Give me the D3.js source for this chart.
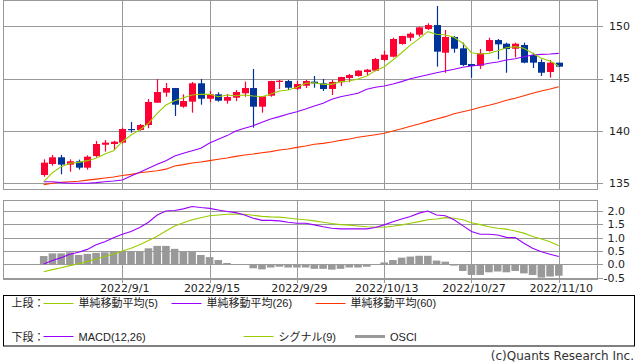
<!DOCTYPE html>
<html><head><meta charset="utf-8">
<script src="https://cdn.jsdelivr.net/npm/d3@7/dist/d3.min.js"></script>
<style>
html,body{margin:0;padding:0;background:#fff;}
svg{display:block;}
</style></head>
<body>
<svg id="chart" width="638" height="362"></svg>
<script>
// ---------- DATA ----------
const dates = ["2022/8/19","2022/8/22","2022/8/23","2022/8/24","2022/8/25","2022/8/26","2022/8/29","2022/8/30","2022/8/31","2022/9/1",
"2022/9/2","2022/9/5","2022/9/6","2022/9/7","2022/9/8","2022/9/9","2022/9/12","2022/9/13","2022/9/14","2022/9/15",
"2022/9/16","2022/9/19","2022/9/20","2022/9/21","2022/9/22","2022/9/23","2022/9/26","2022/9/27","2022/9/28","2022/9/29",
"2022/9/30","2022/10/3","2022/10/4","2022/10/5","2022/10/6","2022/10/7","2022/10/10","2022/10/11","2022/10/12","2022/10/13",
"2022/10/14","2022/10/17","2022/10/18","2022/10/19","2022/10/20","2022/10/21","2022/10/24","2022/10/25","2022/10/26","2022/10/27",
"2022/10/28","2022/10/31","2022/11/1","2022/11/2","2022/11/3","2022/11/4","2022/11/7","2022/11/8","2022/11/9","2022/11/10"];
const tickDates = ["2022/9/1","2022/9/15","2022/9/29","2022/10/13","2022/10/27","2022/11/10"];
const priceTicks = [135,140,145,150];
const macdTicks = [-0.5,0,0.5,1,1.5,2];

const open  = [135.79,136.84,137.48,136.78,137.10,136.49,137.60,138.68,138.75,138.88,140.18,140.09,140.56,142.69,143.65,144.09,142.31,142.79,144.54,143.07,
143.49,142.88,143.17,143.59,144.09,142.31,143.36,144.67,144.76,144.02,144.31,144.70,144.54,144.00,144.64,145.05,145.24,145.62,145.75,146.77,
147.08,148.29,148.89,149.18,149.72,150.10,147.46,148.96,147.88,146.38,146.22,147.62,148.67,148.32,147.84,148.20,147.24,146.57,145.62,146.51];
const high  = [137.29,137.70,137.70,137.29,137.26,137.67,139.04,139.13,139.07,140.31,140.85,140.66,143.04,144.95,144.57,144.10,143.49,144.67,144.95,143.81,
143.68,143.52,143.90,144.70,145.91,143.32,144.78,144.86,144.86,144.76,144.86,145.24,144.95,144.86,145.16,145.43,145.81,145.91,146.96,147.65,
148.89,149.08,149.41,149.94,150.27,151.92,149.63,149.06,148.42,146.40,147.81,148.89,148.77,148.42,148.42,148.42,147.46,146.83,146.77,146.51];
const low   = [135.63,136.68,135.86,136.11,136.30,136.30,137.48,138.02,138.18,138.81,139.83,140.02,140.25,142.69,143.26,141.42,142.21,141.74,142.50,142.73,
142.79,142.60,142.85,143.26,140.31,141.74,143.26,144.00,143.90,143.90,144.09,144.12,143.81,143.42,144.28,144.64,145.18,145.33,145.69,146.64,
147.02,148.23,148.58,148.99,149.63,146.13,145.55,147.46,146.19,145.08,145.91,147.56,146.83,145.55,147.02,146.45,146.00,145.24,145.08,146.13];
const close = [136.97,137.48,136.78,137.10,136.49,137.54,138.75,138.88,138.97,140.18,140.12,140.56,142.76,143.71,144.09,142.50,142.85,144.54,143.07,143.49,
142.88,143.23,143.71,144.09,142.31,143.30,144.76,144.79,144.12,144.47,144.76,144.54,144.00,144.67,145.14,145.33,145.75,145.84,146.86,147.27,
148.77,149.06,149.28,149.88,150.10,147.56,148.96,147.84,146.29,146.19,147.40,148.67,148.26,147.81,148.32,146.51,146.51,145.55,146.51,146.13];

const ma5  = [135.15,136.01,136.59,136.91,137.00,137.16,137.39,137.80,138.11,138.97,139.61,140.09,140.72,141.68,142.47,142.88,143.17,143.43,143.49,143.49,
143.26,143.43,143.36,143.43,143.33,143.26,143.52,143.81,143.90,144.16,144.54,144.60,144.44,144.44,144.70,144.76,144.95,145.24,145.75,146.13,
146.77,147.46,148.18,148.80,149.47,149.22,149.15,148.93,148.36,147.46,147.34,147.40,147.65,147.94,148.04,147.88,147.40,146.93,146.67,146.19];
const ma26 = [135.15,135.15,135.06,135.00,135.00,135.00,135.06,135.15,135.22,135.31,135.70,136.05,136.43,136.81,137.16,137.60,137.86,138.11,138.34,138.85,
139.20,139.55,139.99,140.25,140.50,140.82,141.14,141.36,141.61,141.83,142.09,142.38,142.63,143.02,143.26,143.43,143.59,143.97,144.16,144.28,
144.47,144.70,144.97,145.17,145.36,145.55,145.72,145.88,146.07,146.19,146.29,146.45,146.57,146.77,146.89,147.08,147.24,147.30,147.34,147.40];
const ma60 = [134.87,135.00,135.10,135.15,135.20,135.30,135.40,135.50,135.60,135.75,135.85,136.00,136.10,136.20,136.35,136.65,136.78,136.94,137.03,137.16,
137.29,137.41,137.57,137.70,137.80,137.92,138.02,138.18,138.27,138.43,138.56,138.72,138.81,138.94,139.10,139.23,139.39,139.51,139.64,139.77,
139.99,140.21,140.45,140.66,140.91,141.14,141.36,141.64,141.83,142.02,142.25,142.44,142.66,142.92,143.11,143.36,143.59,143.81,144.00,144.22];

const macd = [0.01,0.14,0.25,0.38,0.45,0.56,0.73,0.85,1.00,1.13,1.23,1.38,1.58,1.85,2.00,2.02,2.08,2.17,2.13,2.10,
2.04,1.98,1.94,1.85,1.73,1.65,1.65,1.63,1.58,1.54,1.54,1.48,1.41,1.35,1.33,1.33,1.33,1.33,1.38,1.48,
1.60,1.70,1.79,1.92,2.00,1.85,1.82,1.67,1.45,1.23,1.13,1.13,1.10,1.01,1.00,0.79,0.60,0.47,0.38,0.29];
const signal = [-0.28,-0.20,-0.13,-0.05,0.02,0.10,0.20,0.29,0.39,0.50,0.60,0.73,0.89,1.05,1.25,1.44,1.56,1.67,1.75,1.82,
1.85,1.88,1.89,1.88,1.84,1.80,1.78,1.77,1.74,1.70,1.67,1.63,1.58,1.53,1.49,1.47,1.44,1.41,1.40,1.39,
1.43,1.48,1.54,1.60,1.67,1.70,1.75,1.73,1.67,1.56,1.49,1.41,1.35,1.32,1.25,1.17,1.04,0.95,0.85,0.70];
const osci = [0.31,0.41,0.41,0.45,0.35,0.39,0.43,0.45,0.47,0.47,0.47,0.47,0.60,0.69,0.69,0.58,0.50,0.50,0.35,0.27,
0.16,0.05,0.01,0.00,-0.15,-0.19,-0.12,-0.09,-0.12,-0.12,-0.12,-0.17,-0.17,-0.20,-0.17,-0.12,-0.12,-0.09,-0.02,0.07,
0.16,0.25,0.29,0.32,0.32,0.14,0.10,-0.05,-0.25,-0.40,-0.40,-0.30,-0.27,-0.30,-0.25,-0.34,-0.40,-0.50,-0.46,-0.43];

const upperLegend = [
  {label:"単純移動平均(5)", color:"#99cc00"},
  {label:"単純移動平均(26)", color:"#9900ff"},
  {label:"単純移動平均(60)", color:"#ff3300"}
];
const lowerLegend = [
  {label:"MACD(12,26)", color:"#9900ff"},
  {label:"シグナル(9)", color:"#99cc00"},
  {label:"OSCI", color:"#999999"}
];

// ---------- LAYOUT ----------
const svg = d3.select("#chart");
const gridC = "#999999";
const L = 3.5, R = 597.5;
const mainTop = 0.5, mainBot = 189.5;
const subTop = 200.5, subBot = 279.5;

const x = d3.scalePoint().domain(dates).range([43.7, 558.8]);
const y = d3.scaleLinear().domain([135,150]).range([183.3, 26.1]);
const ym = d3.scaleLinear().domain([0,2]).range([264.3, 211.0]);
const crisp = v => Math.round(v) + 0.5;

// main panel grid
const gMain = svg.append("g");
gMain.selectAll("line.h").data(priceTicks).join("line")
  .attr("x1", L).attr("x2", 603).attr("y1", d=>crisp(y(d))).attr("y2", d=>crisp(y(d)))
  .attr("stroke", gridC);
gMain.selectAll("line.v").data(tickDates).join("line")
  .attr("x1", d=>crisp(x(d))).attr("x2", d=>crisp(x(d))).attr("y1", mainTop).attr("y2", mainBot)
  .attr("stroke", gridC);
gMain.append("rect").attr("x", L).attr("y", mainTop).attr("width", R-L).attr("height", mainBot-mainTop)
  .attr("fill","none").attr("stroke", gridC);
gMain.selectAll("text").data(priceTicks).join("text")
  .attr("x", 609).attr("y", d=>y(d)).attr("dy","0.36em")
  .attr("font-family","DejaVu Sans").attr("font-size", 11).attr("fill","#222")
  .text(d=>d);

// sub panel grid
const gSub = svg.append("g");
gSub.selectAll("line.h").data(macdTicks).join("line")
  .attr("x1", L).attr("x2", 603).attr("y1", d=>crisp(ym(d))).attr("y2", d=>crisp(ym(d)))
  .attr("stroke", gridC);
gSub.selectAll("line.v").data(tickDates).join("line")
  .attr("x1", d=>crisp(x(d))).attr("x2", d=>crisp(x(d))).attr("y1", subTop).attr("y2", 283)
  .attr("stroke", gridC);
gSub.append("rect").attr("x", L).attr("y", subTop).attr("width", R-L).attr("height", subBot-subTop)
  .attr("fill","none").attr("stroke", gridC);
gSub.selectAll("text").data(macdTicks).join("text")
  .attr("x", 625).attr("y", d=>ym(d)).attr("dy","0.36em").attr("text-anchor","end")
  .attr("font-family","DejaVu Sans").attr("font-size", 11).attr("fill","#222")
  .text(d=>d3.format(".1f")(d).replace("−","-"));

// x labels
svg.append("g").selectAll("text").data(tickDates).join("text")
  .attr("x", d=>x(d)+2.5).attr("y", 292).attr("text-anchor","middle")
  .attr("font-family","DejaVu Sans").attr("font-size", 11).attr("fill","#222")
  .text(d=>d);

// OSCI bars
svg.append("g").selectAll("rect").data(dates).join("rect")
  .attr("x", d=>x(d)-3.8).attr("width", 7.6)
  .attr("y", (d,i)=>Math.min(ym(osci[i]), ym(0)))
  .attr("height", (d,i)=>Math.abs(ym(osci[i])-ym(0)))
  .attr("fill", "#999999");

// MACD & signal lines
const lineM = d3.line().x((d,i)=>x(dates[i])).y(d=>ym(d));
svg.append("path").datum(signal).attr("d", lineM).attr("fill","none").attr("stroke","#99cc00").attr("stroke-width",1.1);
svg.append("path").datum(macd).attr("d", lineM).attr("fill","none").attr("stroke","#9900ff").attr("stroke-width",1.1);

// candles
const gC = svg.append("g");
dates.forEach((d,i)=>{
  const up = close[i] >= open[i];
  const col = up ? "#ff0033" : "#003399";
  const cx = Math.round(x(d)) + 0.5;
  gC.append("line").attr("x1",cx).attr("x2",cx).attr("y1",y(high[i])).attr("y2",y(low[i]))
    .attr("stroke",col).attr("stroke-width",1.2);
  const top = y(Math.max(open[i],close[i])), bot = y(Math.min(open[i],close[i]));
  gC.append("rect").attr("x",cx-3.5).attr("width",7)
    .attr("y",top).attr("height",Math.max(1.2, bot-top)).attr("fill",col);
});

// moving averages
const lineP = d3.line().x((d,i)=>x(dates[i])).y(d=>y(d));
svg.append("path").datum(ma60).attr("d", lineP).attr("fill","none").attr("stroke","#ff3300").attr("stroke-width",1.1);
svg.append("path").datum(ma26).attr("d", lineP).attr("fill","none").attr("stroke","#9900ff").attr("stroke-width",1.1);
svg.append("path").datum(ma5).attr("d", lineP).attr("fill","none").attr("stroke","#99cc00").attr("stroke-width",1.1);

// legend box
svg.append("rect").attr("x",3.5).attr("y",295.5).attr("width",631).attr("height",50.5)
  .attr("fill","none").attr("stroke","#000").attr("stroke-width",1);
const lf = "'Liberation Sans','Noto Sans CJK JP',sans-serif";
svg.append("text").attr("x",11.5).attr("y",303.5).attr("dy","0.36em").attr("font-family",lf).attr("font-size",11).attr("fill","#222").text("上段：");
svg.append("text").attr("x",11.5).attr("y",336.7).attr("dy","0.36em").attr("font-family",lf).attr("font-size",11).attr("fill","#222").text("下段：");
const upX = [43.5, 171.5, 315.5];
const loX = [43.5, 243.5, 355];
upperLegend.forEach((e,i)=>{
  svg.append("line").attr("x1",upX[i]).attr("x2",upX[i]+30).attr("y1",303.5).attr("y2",303.5).attr("stroke",e.color).attr("stroke-width",1);
  svg.append("text").attr("x",upX[i]+35).attr("y",303.5).attr("dy","0.36em").attr("font-family",lf).attr("font-size",11).attr("fill","#222").text(e.label);
});
lowerLegend.forEach((e,i)=>{
  svg.append("line").attr("x1",loX[i]).attr("x2",loX[i]+30).attr("y1",336.5).attr("y2",336.5).attr("stroke",e.color).attr("stroke-width", i===2?3:1);
  svg.append("text").attr("x",loX[i]+35).attr("y",336.7).attr("dy","0.36em").attr("font-family",lf).attr("font-size",11).attr("fill","#222").text(e.label);
});

// copyright
svg.append("text").attr("x",634).attr("y",360).attr("text-anchor","end")
  .attr("font-family","DejaVu Sans").attr("font-size",12).attr("fill","#333")
  .text("(c)Quants Research Inc.");
</script>
</body></html>
